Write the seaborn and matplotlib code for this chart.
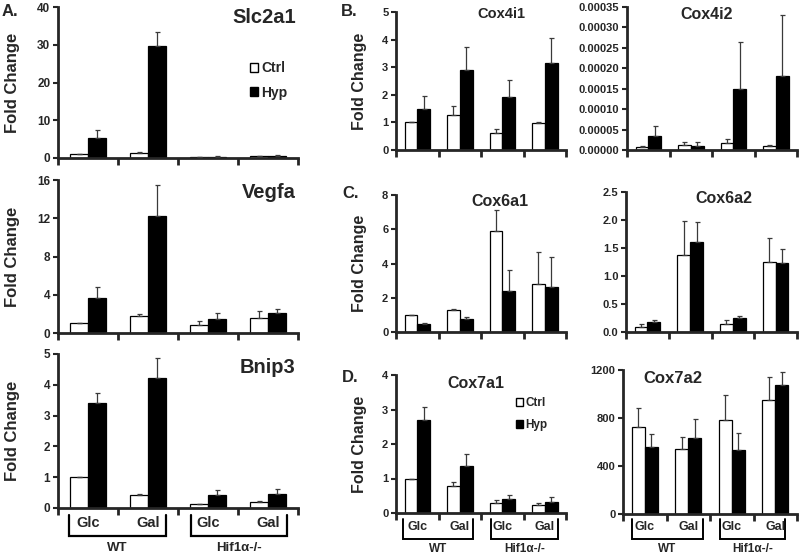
import numpy as np
import pandas as pd
import seaborn as sns
import matplotlib
matplotlib.use('Agg')
import matplotlib.pyplot as plt
from matplotlib.patches import Patch
from matplotlib.transforms import blended_transform_factory

# ---------------- data ----------------
groups = ['WT Glc', 'WT Gal', 'Hif Glc', 'Hif Gal']
conditions = ['Ctrl', 'Hyp']

slc2a1_ctrl = [1.0, 1.3, 0.25, 0.5]
slc2a1_ctrl_err = [0.15, 0.2, 0.05, 0.1]
slc2a1_hyp = [5.3, 29.7, 0.35, 0.65]
slc2a1_hyp_err = [2.2, 3.8, 0.1, 0.2]

vegfa_ctrl = [1.0, 1.8, 0.85, 1.55]
vegfa_ctrl_err = [0.05, 0.15, 0.45, 0.8]
vegfa_hyp = [3.65, 12.2, 1.5, 2.05]
vegfa_hyp_err = [1.2, 3.3, 0.6, 0.45]

bnip3_ctrl = [1.0, 0.42, 0.12, 0.18]
bnip3_ctrl_err = [0.0, 0.04, 0.02, 0.04]
bnip3_hyp = [3.42, 4.22, 0.43, 0.47]
bnip3_hyp_err = [0.32, 0.65, 0.14, 0.15]

cox4i1_ctrl = [1.0, 1.27, 0.63, 0.97]
cox4i1_ctrl_err = [0.0, 0.32, 0.14, 0.06]
cox4i1_hyp = [1.48, 2.9, 1.92, 3.15]
cox4i1_hyp_err = [0.48, 0.82, 0.6, 0.9]

cox4i2_ctrl = [0.000007, 0.000012, 0.000016, 0.000009]
cox4i2_ctrl_err = [0.000002, 0.000007, 0.00001, 0.000004]
cox4i2_hyp = [0.000034, 0.000011, 0.000149, 0.000180]
cox4i2_hyp_err = [0.000025, 0.000008, 0.000116, 0.00015]

cox6a1_ctrl = [1.0, 1.3, 5.9, 2.8]
cox6a1_ctrl_err = [0.0, 0.05, 1.2, 1.9]
cox6a1_hyp = [0.45, 0.75, 2.4, 2.6]
cox6a1_hyp_err = [0.1, 0.12, 1.2, 1.8]

cox6a2_ctrl = [0.09, 1.38, 0.15, 1.25]
cox6a2_ctrl_err = [0.06, 0.6, 0.06, 0.42]
cox6a2_hyp = [0.18, 1.6, 0.25, 1.23]
cox6a2_hyp_err = [0.03, 0.37, 0.04, 0.25]

cox7a1_ctrl = [1.0, 0.79, 0.28, 0.22]
cox7a1_ctrl_err = [0.0, 0.12, 0.09, 0.06]
cox7a1_hyp = [2.71, 1.35, 0.4, 0.32]
cox7a1_hyp_err = [0.35, 0.35, 0.13, 0.14]

cox7a2_ctrl = [726, 545, 782, 947]
cox7a2_ctrl_err = [160, 97, 210, 198]
cox7a2_hyp = [558, 637, 530, 1075]
cox7a2_hyp_err = [107, 151, 149, 112]

sub_labels = ['Glc', 'Gal']
main_labels = ['WT', 'Hif1α-/-']

# ---------------- style ----------------
sns.set_style('ticks')
plt.rcParams['font.family'] = ['Liberation Sans', 'DejaVu Sans']
plt.rcParams['font.weight'] = 'bold'
plt.rcParams['axes.labelweight'] = 'bold'

W, H = 800, 557
fig = plt.figure(figsize=(W / 100, H / 100), dpi=100)


def make_df(ctrl, hyp):
    return pd.DataFrame({
        'group': groups * 2,
        'condition': ['Ctrl'] * 4 + ['Hyp'] * 4,
        'value': list(ctrl) + list(hyp),
    })


def panel(rect_px, ctrl, ctrl_err, hyp, hyp_err, yticks, fmt, title,
          title_xy, title_size, title_ha='center', ylabel=None, ylabel_x=-0.17,
          ylabel_size=11.5, tick_size=8):
    x0, top, x1, bottom = rect_px
    ax = fig.add_axes([x0 / W, 1 - bottom / H, (x1 - x0) / W, (bottom - top) / H])
    df = make_df(ctrl, hyp)
    sns.barplot(data=df, x='group', y='value', hue='condition', order=groups,
                hue_order=conditions, palette={'Ctrl': 'white', 'Hyp': 'black'},
                edgecolor='black', linewidth=0.9, width=0.6, errorbar=None,
                saturation=1, legend=False, ax=ax)
    for cont, err in zip(ax.containers, [ctrl_err, hyp_err]):
        xs = [r.get_x() + r.get_width() / 2 for r in cont]
        hs = [r.get_height() for r in cont]
        ax.errorbar(xs, hs, yerr=[np.zeros(len(err)), err], fmt='none',
                    ecolor='#3a3a3a', elinewidth=0.9, capsize=1.8,
                    capthick=0.9, zorder=3)
    ax.set_xlim(-0.5, 3.5)
    ax.set_xticks([-0.5, 0.5, 1.5, 2.5, 3.5])
    ax.set_xticklabels([])
    ax.set_xlabel('')
    ax.set_ylim(0, yticks[-1])
    ax.set_yticks(yticks)
    ax.set_yticklabels([fmt.format(v) for v in yticks], fontsize=tick_size,
                       fontweight='bold')
    for s in ['top', 'right']:
        ax.spines[s].set_visible(False)
    for s in ['left', 'bottom']:
        ax.spines[s].set_linewidth(2)
    ax.tick_params(axis='x', direction='out', length=5, width=2)
    ax.tick_params(axis='y', direction='out', length=3.5, width=1.5, pad=2)
    if ylabel:
        ax.set_ylabel(ylabel, fontsize=ylabel_size, fontweight='bold')
        ax.yaxis.set_label_coords(ylabel_x, 0.5)
    else:
        ax.set_ylabel('')
    ax.text(title_xy[0], title_xy[1], title, transform=ax.transAxes,
            ha=title_ha, va='center', fontsize=title_size, fontweight='bold')
    return ax


def brackets(ax, y_text, y_vtop, y_h, y_main, sub_size, main_size, spans,
             lw=1.6):
    tr = blended_transform_factory(ax.transData, ax.transAxes)
    for (a, b), centers, main in zip(spans, [(0, 1), (2, 3)], main_labels):
        ax.plot([a, a, b, b], [y_vtop, y_h, y_h, y_vtop], transform=tr,
                clip_on=False, color='black', lw=lw, solid_joinstyle='miter')
        for c, s in zip(centers, sub_labels):
            ax.text(c, y_text, s, transform=tr, ha='center', va='center',
                    fontsize=sub_size, fontweight='bold')
        ax.text((a + b) / 2, y_main, main, transform=tr, ha='center',
                va='center', fontsize=main_size, fontweight='bold')


def legend(ax, anchor, size, spacing):
    handles = [Patch(facecolor='white', edgecolor='black', linewidth=1),
               Patch(facecolor='black', edgecolor='black', linewidth=1)]
    ax.legend(handles=handles, labels=conditions, loc='upper left',
              bbox_to_anchor=anchor, frameon=False, handlelength=0.6,
              handleheight=0.6, handletextpad=0.2, labelspacing=spacing,
              borderpad=0, borderaxespad=0,
              prop={'weight': 'bold', 'size': size})


# ---------------- panel A ----------------
ax_slc = panel((58, 7, 298, 158), slc2a1_ctrl, slc2a1_ctrl_err, slc2a1_hyp,
               slc2a1_hyp_err, [0, 10, 20, 30, 40], '{:.0f}', 'Slc2a1',
               (0.99, 0.93), 14.5, 'right', 'Fold Change', -0.16, 12, 8.5)
legend(ax_slc, (0.8, 0.64), 10, 0.75)

ax_veg = panel((58, 180, 298, 333), vegfa_ctrl, vegfa_ctrl_err, vegfa_hyp,
               vegfa_hyp_err, [0, 4, 8, 12, 16], '{:.0f}', 'Vegfa',
               (0.99, 0.92), 14.5, 'right', 'Fold Change', -0.16, 12, 8.5)

ax_bn = panel((58, 354, 298, 508), bnip3_ctrl, bnip3_ctrl_err, bnip3_hyp,
              bnip3_hyp_err, [0, 1, 2, 3, 4, 5], '{:.0f}', 'Bnip3',
              (0.99, 0.915), 14.5, 'right', 'Fold Change', -0.16, 12, 8.5)
brackets(ax_bn, -0.097, -0.045, -0.182, -0.262, 10.5, 9.5,
         [(-0.32, 1.3), (1.72, 3.32)])

# ---------------- panel B ----------------
ax_c41 = panel((396, 12, 566, 150), cox4i1_ctrl, cox4i1_ctrl_err, cox4i1_hyp,
               cox4i1_hyp_err, [0, 1, 2, 3, 4, 5], '{:.0f}', 'Cox4i1',
               (0.62, 0.985), 10.5, 'center', 'Fold Change', -0.17, 11.5, 8)
ax_c42 = panel((627, 7, 797, 150), cox4i2_ctrl, cox4i2_ctrl_err, cox4i2_hyp,
               cox4i2_hyp_err,
               [0, 0.00005, 0.0001, 0.00015, 0.0002, 0.00025, 0.0003, 0.00035],
               '{:.5f}', 'Cox4i2', (0.47, 0.95), 11.5, 'center', None)

# ---------------- panel C ----------------
ax_c61 = panel((396, 195, 566, 332), cox6a1_ctrl, cox6a1_ctrl_err, cox6a1_hyp,
               cox6a1_hyp_err, [0, 2, 4, 6, 8], '{:.0f}', 'Cox6a1',
               (0.61, 0.95), 11.5, 'center', 'Fold Change', -0.17, 11.5, 8)
ax_c62 = panel((626, 192, 797, 332), cox6a2_ctrl, cox6a2_ctrl_err, cox6a2_hyp,
               cox6a2_hyp_err, [0, 0.5, 1.0, 1.5, 2.0, 2.5], '{:.1f}', 'Cox6a2',
               (0.573, 0.955), 11.5, 'center', None)

# ---------------- panel D ----------------
ax_c71 = panel((396, 375, 566, 513), cox7a1_ctrl, cox7a1_ctrl_err, cox7a1_hyp,
               cox7a1_hyp_err, [0, 1, 2, 3, 4], '{:.0f}', 'Cox7a1',
               (0.47, 0.94), 11.5, 'center', 'Fold Change', -0.17, 11.5, 8)
legend(ax_c71, (0.706, 0.84), 8.5, 0.85)
brackets(ax_c71, -0.10, -0.045, -0.185, -0.262, 9, 8.5,
         [(-0.34, 1.3), (1.74, 3.3)], lw=1.4)

ax_c72 = panel((623, 370, 797, 514), cox7a2_ctrl, cox7a2_ctrl_err, cox7a2_hyp,
               cox7a2_hyp_err, [0, 400, 800, 1200], '{:.0f}', 'Cox7a2',
               (0.287, 0.944), 12, 'center', None)
brackets(ax_c72, -0.09, -0.035, -0.174, -0.245, 9, 8.5,
         [(-0.29, 1.34), (1.73, 3.22)], lw=1.4)

# ---------------- panel letters ----------------
for x, y, s in [(2, 4, 'A.'), (341, 4, 'B.'), (342, 186, 'C.'), (342, 370, 'D.')]:
    fig.text(x / W, 1 - y / H, s, ha='left', va='top', fontsize=12,
             fontweight='bold')

fig.savefig('out.png', dpi=100, facecolor='white')
